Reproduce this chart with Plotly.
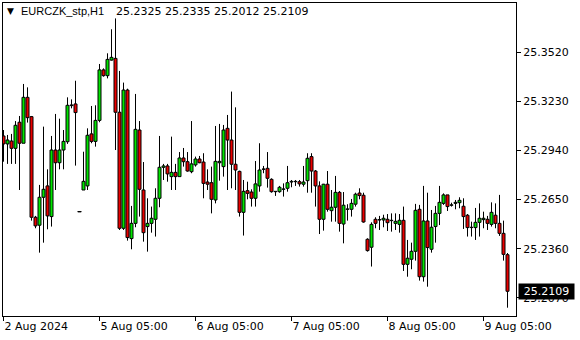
import plotly.graph_objects as go

# ---------------- data ----------------
opens = [
25.3026, 25.2979, 25.2996, 25.2953, 25.3107, 25.2983, 25.3254, 25.3140, 25.2546, 25.2499,
25.2664, 25.2731, 25.2550, 25.2943, 25.2868, 25.2943, 25.2992, 25.3205, 25.3215, 25.2579,
25.2707, 25.2731, 25.3038, 25.2994, 25.3118, 25.3416, 25.3382, 25.3474, 25.3484, 25.3166,
25.2481, 25.3297, 25.2420, 25.2510, 25.3061, 25.2707, 25.2491, 25.2510, 25.2534, 25.2658,
25.2841, 25.2849, 25.2786, 25.2811, 25.2786, 25.2896, 25.2874, 25.2815, 25.2855, 25.2890,
25.2872, 25.2754, 25.2750, 25.2648, 25.2868, 25.2845, 25.3071, 25.3002, 25.2859, 25.2817,
25.2575, 25.2703, 25.2695, 25.2658, 25.2731, 25.2829, 25.2835, 25.2770, 25.2697, 25.2697,
25.2711, 25.2717, 25.2754, 25.2756, 25.2756, 25.2741, 25.2762, 25.2904, 25.2819, 25.2731,
25.2534, 25.2741, 25.2585, 25.2605, 25.2693, 25.2506, 25.2593, 25.2593, 25.2623, 25.2689,
25.2676, 25.2416, 25.2369, 25.2534, 25.2530, 25.2530, 25.2534, 25.2526, 25.2510, 25.2504,
25.2528, 25.2268, 25.2298, 25.2345, 25.2593, 25.2195, 25.2524, 25.2357, 25.2491, 25.2569,
25.2628, 25.2678, 25.2617, 25.2628, 25.2632, 25.2611, 25.2558, 25.2485, 25.2485, 25.2516,
25.2532, 25.2534, 25.2504, 25.2558, 25.2510, 25.2451, 25.2325]

highs = [
25.3061, 25.3032, 25.3038, 25.3114, 25.3144, 25.3333, 25.3313, 25.3144, 25.2554, 25.2737,
25.3081, 25.2829, 25.3026, 25.3156, 25.3128, 25.3061, 25.3254, 25.3242, 25.3352, 25.2579,
25.2933, 25.3071, 25.3203, 25.3207, 25.3451, 25.3425, 25.3514, 25.3656, 25.3720, 25.3410,
25.3341, 25.3305, 25.2613, 25.3274, 25.3114, 25.2872, 25.2658, 25.2609, 25.2717, 25.3026,
25.2861, 25.2861, 25.3022, 25.2861, 25.2931, 25.2955, 25.2931, 25.3114, 25.2904, 25.2908,
25.2924, 25.2829, 25.2845, 25.3085, 25.3097, 25.3091, 25.3150, 25.3288, 25.3195, 25.2821,
25.2766, 25.2756, 25.2711, 25.2878, 25.2983, 25.2849, 25.2931, 25.2776, 25.2701, 25.2731,
25.2746, 25.2849, 25.2766, 25.2766, 25.2766, 25.2849, 25.2924, 25.2924, 25.2825, 25.2758,
25.2743, 25.2819, 25.2707, 25.2790, 25.2701, 25.2695, 25.2623, 25.2654, 25.2691, 25.2717,
25.2691, 25.2422, 25.2516, 25.2546, 25.2554, 25.2561, 25.2565, 25.2569, 25.2569, 25.2565,
25.2609, 25.2412, 25.2396, 25.2625, 25.2619, 25.2731, 25.2691, 25.2589, 25.2613, 25.2731,
25.2687, 25.2678, 25.2632, 25.2648, 25.2664, 25.2658, 25.2565, 25.2520, 25.2601, 25.2628,
25.2579, 25.2554, 25.2634, 25.2628, 25.2678, 25.2526, 25.2335]

lows = [
25.2874, 25.2861, 25.2861, 25.2861, 25.2707, 25.2983, 25.3105, 25.2526, 25.2481, 25.2337,
25.2396, 25.2475, 25.2491, 25.2707, 25.2829, 25.2829, 25.2979, 25.3189, 25.2851, 25.2579,
25.2707, 25.2707, 25.2983, 25.2963, 25.3107, 25.3376, 25.3366, 25.3471, 25.2943, 25.2471,
25.2471, 25.2408, 25.2357, 25.2487, 25.2550, 25.2402, 25.2343, 25.2455, 25.2432, 25.2605,
25.2766, 25.2756, 25.2707, 25.2707, 25.2786, 25.2845, 25.2815, 25.2806, 25.2845, 25.2865,
25.2658, 25.2707, 25.2569, 25.2628, 25.2762, 25.2786, 25.2707, 25.2717, 25.2707, 25.2550,
25.2438, 25.2652, 25.2609, 25.2609, 25.2697, 25.2806, 25.2721, 25.2691, 25.2672, 25.2691,
25.2668, 25.2697, 25.2723, 25.2731, 25.2727, 25.2727, 25.2691, 25.2691, 25.2609, 25.2447,
25.2467, 25.2579, 25.2520, 25.2520, 25.2461, 25.2392, 25.2526, 25.2550, 25.2609, 25.2652,
25.2514, 25.2343, 25.2255, 25.2481, 25.2471, 25.2487, 25.2465, 25.2461, 25.2471, 25.2455,
25.2229, 25.2195, 25.2239, 25.2290, 25.2172, 25.2166, 25.2136, 25.2337, 25.2396, 25.2500,
25.2619, 25.2583, 25.2609, 25.2593, 25.2599, 25.2477, 25.2432, 25.2432, 25.2412, 25.2432,
25.2481, 25.2471, 25.2491, 25.2481, 25.2436, 25.2290, 25.2012]

closes = [
25.2979, 25.3002, 25.2953, 25.3089, 25.2983, 25.3254, 25.3134, 25.2546, 25.2495, 25.2664,
25.2711, 25.2554, 25.2943, 25.2868, 25.2943, 25.2994, 25.3207, 25.3209, 25.3164, 25.2579,
25.2758, 25.3030, 25.2994, 25.3118, 25.3416, 25.3382, 25.3478, 25.3490, 25.3166, 25.2481,
25.3297, 25.2426, 25.2510, 25.3065, 25.2711, 25.2455, 25.2510, 25.2540, 25.2658, 25.2841,
25.2849, 25.2802, 25.2811, 25.2786, 25.2896, 25.2874, 25.2819, 25.2861, 25.2890, 25.2868,
25.2746, 25.2741, 25.2652, 25.2876, 25.2876, 25.3061, 25.3002, 25.2859, 25.2825, 25.2575,
25.2699, 25.2687, 25.2658, 25.2743, 25.2825, 25.2831, 25.2776, 25.2697, 25.2699, 25.2723,
25.2713, 25.2750, 25.2758, 25.2758, 25.2743, 25.2754, 25.2894, 25.2819, 25.2731, 25.2534,
25.2741, 25.2593, 25.2605, 25.2693, 25.2510, 25.2617, 25.2595, 25.2628, 25.2682, 25.2674,
25.2518, 25.2349, 25.2504, 25.2510, 25.2532, 25.2540, 25.2514, 25.2528, 25.2522, 25.2528,
25.2268, 25.2304, 25.2345, 25.2587, 25.2195, 25.2524, 25.2367, 25.2487, 25.2569, 25.2634,
25.2678, 25.2609, 25.2619, 25.2634, 25.2646, 25.2550, 25.2485, 25.2487, 25.2516, 25.2540,
25.2540, 25.2510, 25.2575, 25.2510, 25.2451, 25.2327, 25.2109]

bars = list(range(len(opens)))

time_tick_bars = [0, 24, 48, 72, 96, 120]
time_tick_labels = ["2 Aug 2024", "5 Aug 05:00", "6 Aug 05:00",
                    "7 Aug 05:00", "8 Aug 05:00", "9 Aug 05:00"]
price_ticks = [25.3520, 25.3230, 25.2940, 25.2650, 25.2360, 25.2070]

symbol = "EURCZK_stp,H1"
last_bar = (opens[-1], highs[-1], lows[-1], closes[-1])

# ---------------- derived drawing lists ----------------
FONT = "DejaVu Sans"
BULL = "rgb(0,230,0)"
BEAR = "rgb(235,0,0)"

body_lo = [min(o, c) for o, c in zip(opens, closes)]
body_hi = [max(o, c) for o, c in zip(opens, closes)]
body_h = [h - l for h, l in zip(body_hi, body_lo)]
body_col = [BULL if c >= o else BEAR for o, c in zip(opens, closes)]

wick_x, wick_y = [], []
for i in bars:
    wick_x += [i, i, None, i, i, None]
    wick_y += [highs[i], body_hi[i], None, body_lo[i], lows[i], None]

flat_x = [i for i in bars if opens[i] == closes[i]]
flat_y = [opens[i] for i in flat_x]

fig = go.Figure()
fig.add_trace(go.Bar(
    x=bars, y=body_h, base=body_lo, width=0.75,
    marker=dict(color=body_col, line=dict(color="black", width=1)),
    hoverinfo="skip",
))
fig.add_trace(go.Scatter(
    x=wick_x, y=wick_y, mode="lines",
    line=dict(color="black", width=1), hoverinfo="skip",
))
fig.add_trace(go.Scatter(
    x=flat_x, y=flat_y, mode="markers",
    marker=dict(symbol="line-ew", size=3, color="black",
                line=dict(color="black", width=1)),
    hoverinfo="skip",
))

PX_PER_BAR = 4
X0 = -0.125
fig.update_layout(
    width=580, height=340,
    margin=dict(l=3, r=64, t=3, b=24),
    paper_bgcolor="white", plot_bgcolor="white",
    showlegend=False, barmode="overlay",
    font=dict(family=FONT, size=11, color="black"),
    xaxis=dict(
        range=[X0, X0 + 513 / PX_PER_BAR],
        tickvals=time_tick_bars, ticktext=time_tick_labels,
        ticks="outside", ticklen=4, tickcolor="black", tickwidth=1,
        ticklabelposition="outside right",
        showgrid=False, zeroline=False,
        showline=True, mirror=True, linecolor="black", linewidth=1,
        tickfont=dict(family=FONT, size=11, color="black"),
    ),
    yaxis=dict(
        range=[25.1963, 25.3811],
        side="right",
        tickvals=price_ticks, ticktext=[f"{v:.4f}" for v in price_ticks],
        ticks="outside", ticklen=4, tickcolor="black", tickwidth=1,
        showgrid=False, zeroline=False,
        showline=True, mirror=True, linecolor="black", linewidth=1,
        tickfont=dict(family=FONT, size=11, color="black"),
    ),
)

title_y = 1 - (11.5 - 3) / 313
fig.add_annotation(text="\u25BC", xref="paper", yref="paper", x=0, y=title_y,
                   xanchor="left", yanchor="middle", xshift=2, showarrow=False,
                   font=dict(family=FONT, size=9, color="black"))
fig.add_annotation(text=symbol, xref="paper", yref="paper", x=0, y=title_y,
                   xanchor="left", yanchor="middle", xshift=16, showarrow=False,
                   font=dict(family="Liberation Sans", size=11, color="black"))
fig.add_annotation(text=" ".join(f"{v:.4f}" for v in last_bar),
                   xref="paper", yref="paper", x=0, y=title_y,
                   xanchor="left", yanchor="middle", xshift=111, showarrow=False,
                   font=dict(family=FONT, size=11, color="black"))

# last price label
fig.add_annotation(text=f"{closes[-1]:.4f}", xref="paper", yref="y",
                   x=1, y=closes[-1], xanchor="left", yanchor="middle",
                   xshift=2, showarrow=False, bgcolor="black",
                   width=55, height=15, borderpad=0, align="center",
                   font=dict(family=FONT, size=11, color="white"))

fig.write_html("out.html")
